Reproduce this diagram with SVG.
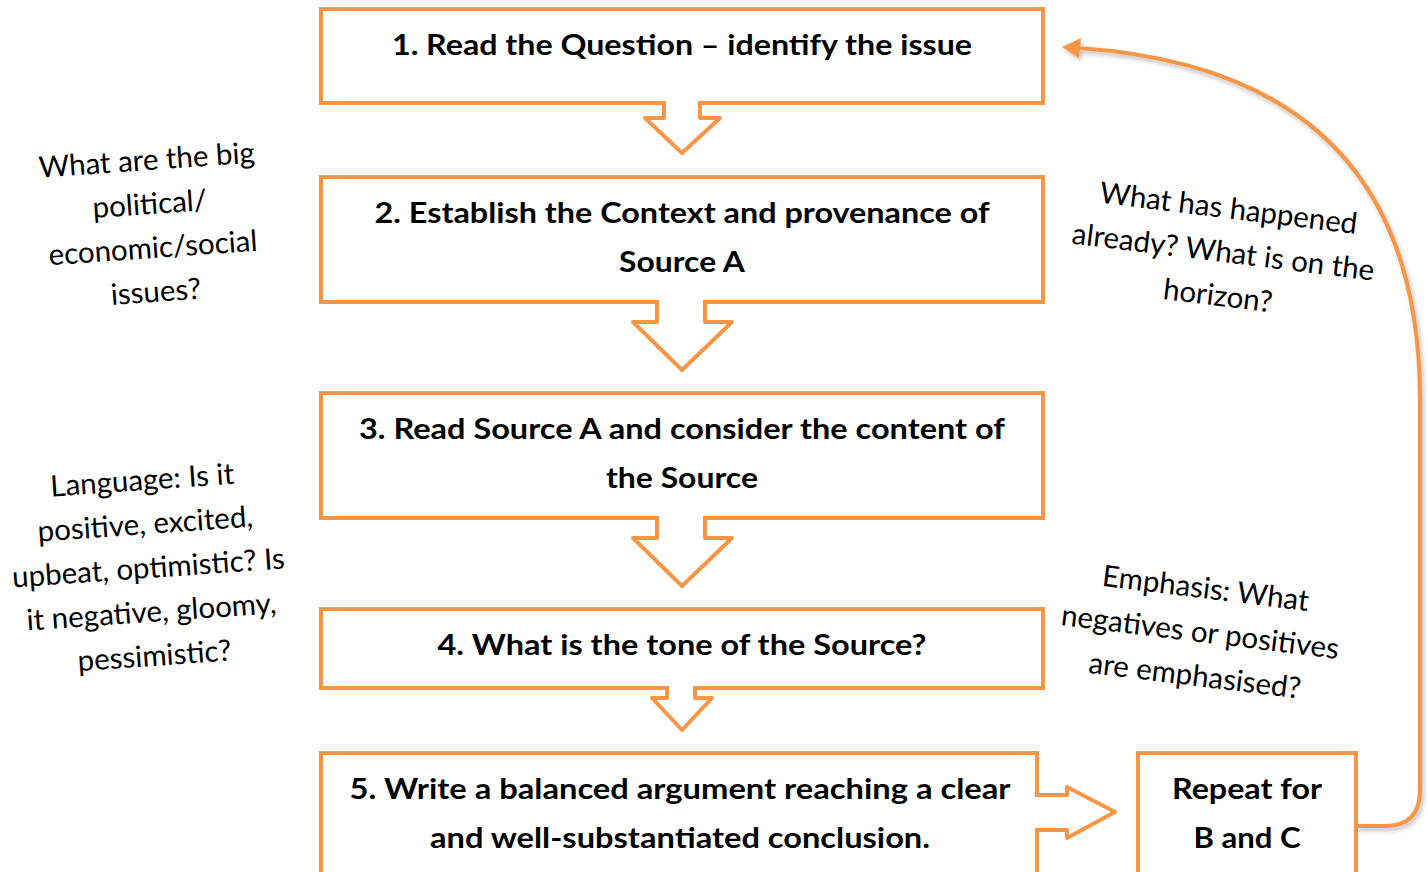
<svg xmlns="http://www.w3.org/2000/svg" width="1428" height="872" viewBox="0 0 1428 872">
<defs>
<style>
.box{fill:#fff;stroke:#F79646;stroke-width:4}
.arr{fill:#fff;stroke:#F79646;stroke-width:4;stroke-linejoin:round}
.t{font-family:Lato,"Open Sans",sans-serif;font-weight:bold;font-size:28px;fill:#000;text-anchor:middle}
.s{font-family:Lato,"Open Sans",sans-serif;font-size:29.5px;fill:#000;text-anchor:middle}
.con{fill:none;stroke:#F79646;stroke-width:4}
</style>
<filter id="sh" x="-10%" y="-10%" width="130%" height="130%">
<feDropShadow dx="2" dy="3" stdDeviation="2" flood-color="#000" flood-opacity="0.25"/>
</filter>
</defs>
<rect width="1428" height="872" fill="#fff"/>

<g id="node1"><rect class="box" x="321" y="9" width="722" height="94"/>
<text class="t" x="682" y="55" textLength="580" lengthAdjust="spacingAndGlyphs">1. Read the Question – identify the issue</text></g>
<g id="node2"><rect class="box" x="321" y="177" width="722" height="125"/>
<text class="t" x="682" y="223" textLength="615" lengthAdjust="spacingAndGlyphs">2. Establish the Context and provenance of</text>
<text class="t" x="682" y="272" textLength="126" lengthAdjust="spacingAndGlyphs">Source A</text></g>
<g id="node3"><rect class="box" x="321" y="393" width="722" height="125"/>
<text class="t" x="682" y="439" textLength="646" lengthAdjust="spacingAndGlyphs">3. Read Source A and consider the content of</text>
<text class="t" x="682" y="488" textLength="152" lengthAdjust="spacingAndGlyphs">the Source</text></g>
<g id="node4"><rect class="box" x="321" y="609" width="722" height="79"/>
<text class="t" x="682" y="655" textLength="489" lengthAdjust="spacingAndGlyphs">4. What is the tone of the Source?</text></g>
<g id="node5"><rect class="box" x="321" y="753" width="716" height="125"/>
<text class="t" x="680" y="799" textLength="661" lengthAdjust="spacingAndGlyphs">5. Write a balanced argument reaching a clear</text>
<text class="t" x="680" y="848" textLength="500" lengthAdjust="spacingAndGlyphs">and well-substantiated conclusion.</text></g>
<g id="node6"><rect class="box" x="1138" y="753" width="218" height="125"/>
<text class="t" x="1247" y="799" textLength="150" lengthAdjust="spacingAndGlyphs">Repeat for</text>
<text class="t" x="1247" y="848" textLength="107" lengthAdjust="spacingAndGlyphs">B and C</text></g>

<g id="connectors">
<path class="arr" d="M664 101 V118 H645 L682 153 L720 118 H700 V101"/>
<path class="arr" d="M657 300 V322 H633 L682 370 L732 322 H705 V300"/>
<path class="arr" d="M657 516 V538 H633 L682 586 L732 538 H705 V516"/>
<path class="arr" d="M667 686 V698 H652 L682 730 L712 698 H695 V686"/>
<path class="arr" d="M1035 795 H1067 V787 L1115 812 L1067 838 V830 H1035"/>
<g filter="url(#sh)">
<path class="con" d="M1356 826 H1385 Q1420 826 1420 790 L1420 400 C1420 140 1260 60 1078 48"/>
<polygon points="1062,47 1081,38 1079,58" fill="#F79646"/>
</g>
</g>

<g id="note1" transform="rotate(-4 152 236)">
<text class="s" x="152" y="170">What are the big</text>
<text class="s" x="152" y="214">political/</text>
<text class="s" x="152" y="258">economic/social</text>
<text class="s" x="152" y="302">issues?</text>
</g>
<g id="note2" transform="rotate(7 1222 262)">
<text class="s" x="1222" y="218">What has happened</text>
<text class="s" x="1222" y="262">already? What is on the</text>
<text class="s" x="1222" y="306">horizon?</text>
</g>
<g id="note3" transform="rotate(-4 149 578)">
<text class="s" x="149" y="490">Language: Is it</text>
<text class="s" x="149" y="534">positive, excited,</text>
<text class="s" x="149" y="578">upbeat, optimistic? Is</text>
<text class="s" x="149" y="622">it negative, gloomy,</text>
<text class="s" x="149" y="666">pessimistic?</text>
</g>
<g id="note4" transform="rotate(7 1199 642)">
<text class="s" x="1199" y="598">Emphasis: What</text>
<text class="s" x="1199" y="642">negatives or positives</text>
<text class="s" x="1199" y="686">are emphasised?</text>
</g>
</svg>
